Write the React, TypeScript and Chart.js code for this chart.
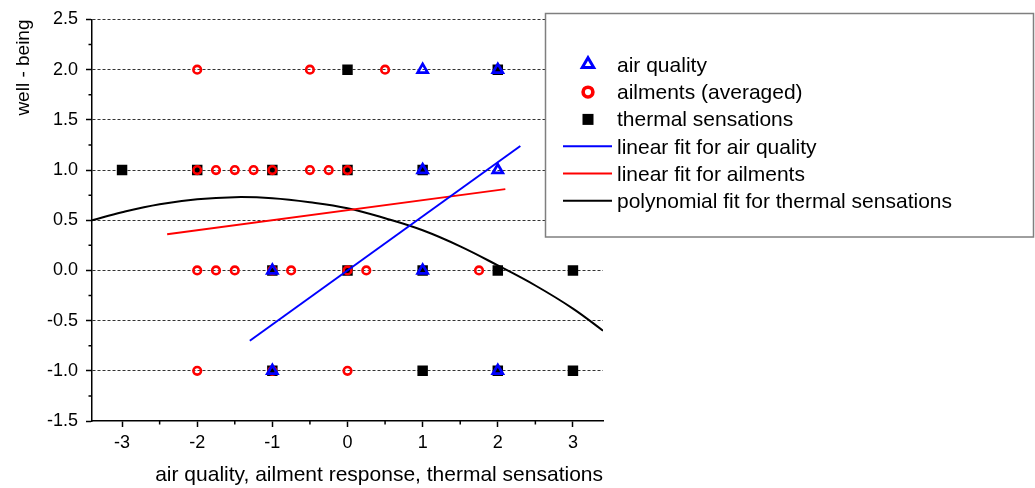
import React, { useEffect, useRef } from 'react';
import { Chart, registerables } from 'chart.js';

Chart.register(...registerables);

// ---------- data ----------
const airQualityX = [1, 2, 1, 2, -1, 1, -1, 2];
const airQualityY = [2, 2, 1, 1, 0, 0, -1, -1];

const ailmentsX = [-2, -0.5, 0.5, -2, -1.75, -1.5, -1.25, -1, -0.5, -0.25, 0, -2, -1.75, -1.5, -1, -0.75, 0, 0.25, 1.75, -2, -1, 0];
const ailmentsY = [2, 2, 2, 1, 1, 1, 1, 1, 1, 1, 1, 0, 0, 0, 0, 0, 0, 0, 0, -1, -1, -1];

const thermalX = [0, 2, -3, -2, -1, 0, 1, -1, 0, 1, 2, 3, -1, 1, 2, 3];
const thermalY = [2, 2, 1, 1, 1, 1, 1, 0, 0, 0, 0, 0, -1, -1, -1, -1];

const airFitX = [-1.3, 2.3];
const airFitY = [-0.7, 1.24];

const ailFitX = [-2.4, 2.1];
const ailFitY = [0.36, 0.81];

const polyFitX = [-3.4, -3, -2.5, -2, -1.5, -1, -0.5, 0, 0.5, 1, 1.5, 2, 2.5, 3, 3.4];
const polyFitY = [0.5, 0.58, 0.66, 0.71, 0.73, 0.72, 0.68, 0.62, 0.52, 0.4, 0.24, 0.05, -0.15, -0.38, -0.6];

const xTickValues = [-3, -2, -1, 0, 1, 2, 3];
const xMinorTicks = [-2.5, -1.5, -0.5, 0.5, 1.5, 2.5];
const yTickValues = [-1.5, -1.0, -0.5, 0, 0.5, 1.0, 1.5, 2.0, 2.5];
const yMinorTicks = [-1.25, -0.75, -0.25, 0.25, 0.75, 1.25, 1.75, 2.25];

const labels = [
  'air quality',
  'ailments (averaged)',
  'thermal sensations',
  'linear fit for air quality',
  'linear fit for ailments',
  'polynomial fit for thermal sensations',
];
const xTitle = 'air quality, ailment response, thermal sensations';
const yTitle = 'well - being';

const FONT = "'Liberation Sans', Arial, sans-serif";

const pts = (xs: number[], ys: number[]) => xs.map((x, i) => ({ x, y: ys[i] }));

const minorTickPlugin = {
  id: 'minorTicks',
  afterDraw(chart: any) {
    const { ctx, scales, chartArea } = chart;
    ctx.save();
    ctx.strokeStyle = '#000';
    ctx.lineWidth = 1.5;
    ctx.beginPath();
    xMinorTicks.forEach((v) => {
      const px = scales.x.getPixelForValue(v);
      ctx.moveTo(px, chartArea.bottom);
      ctx.lineTo(px, chartArea.bottom + 3.5);
    });
    yMinorTicks.forEach((v) => {
      const py = scales.y.getPixelForValue(v);
      ctx.moveTo(chartArea.left, py);
      ctx.lineTo(chartArea.left - 3.5, py);
    });
    ctx.stroke();
    ctx.restore();
  },
};

const legendPlugin = {
  id: 'boxLegend',
  afterDraw(chart: any) {
    const ctx = chart.ctx;
    const ds = chart.data.datasets;
    ctx.save();
    ctx.fillStyle = '#fff';
    ctx.fillRect(545, 13, 489, 224);
    ctx.strokeStyle = '#7f7f7f';
    ctx.lineWidth = 1.5;
    ctx.strokeRect(545.5, 13.5, 488, 223.5);
    const mx = 588;
    ds.forEach((d: any, i: number) => {
      const base = 71.8 + 27.3 * i;
      const my = base - 7.5;
      ctx.save();
      if (d.showLine) {
        ctx.strokeStyle = d.borderColor;
        ctx.lineWidth = 2;
        ctx.beginPath();
        ctx.moveTo(563, my);
        ctx.lineTo(612, my);
        ctx.stroke();
      } else if (d.pointStyle === 'triangle') {
        const r = 6.6;
        ctx.strokeStyle = d.borderColor;
        ctx.lineWidth = 3;
        ctx.beginPath();
        ctx.moveTo(mx, my - r);
        ctx.lineTo(mx + r * 0.866, my + r * 0.5);
        ctx.lineTo(mx - r * 0.866, my + r * 0.5);
        ctx.closePath();
        ctx.stroke();
      } else if (d.pointStyle === 'circle') {
        ctx.strokeStyle = d.borderColor;
        ctx.lineWidth = 3.6;
        ctx.beginPath();
        ctx.arc(mx, my + 0.5, 4.9, 0, Math.PI * 2);
        ctx.stroke();
      } else {
        ctx.fillStyle = d.backgroundColor;
        ctx.fillRect(mx - 5.5, my - 5, 11, 11);
      }
      ctx.restore();
      ctx.fillStyle = '#000';
      ctx.font = `21px ${FONT}`;
      ctx.textBaseline = 'alphabetic';
      ctx.textAlign = 'left';
      ctx.fillText(d.label, 617, base);
    });
    ctx.restore();
  },
};

export default function App() {
  const ref = useRef<HTMLCanvasElement>(null);

  useEffect(() => {
    Chart.defaults.font.family = FONT;
    const chart = new Chart(ref.current as HTMLCanvasElement, {
      type: 'scatter',
      data: {
        datasets: [
          {
            label: labels[0],
            data: pts(airQualityX, airQualityY),
            pointStyle: 'triangle',
            pointRadius: 5.8,
            borderWidth: 2.7,
            borderColor: '#0000ff',
            backgroundColor: 'rgba(0,0,0,0)',
            order: 1,
          },
          {
            label: labels[1],
            data: pts(ailmentsX, ailmentsY),
            pointStyle: 'circle',
            pointRadius: 3.8,
            borderWidth: 2.6,
            borderColor: '#ff0000',
            backgroundColor: 'rgba(0,0,0,0)',
            order: 2,
          },
          {
            label: labels[2],
            data: pts(thermalX, thermalY),
            pointStyle: 'rect',
            pointRadius: 7.4,
            borderWidth: 0,
            borderColor: '#000',
            backgroundColor: '#000',
            order: 3,
          },
          {
            label: labels[3],
            data: pts(airFitX, airFitY),
            showLine: true,
            pointRadius: 0,
            borderWidth: 2,
            borderColor: '#0000ff',
            backgroundColor: '#0000ff',
            order: 0,
          },
          {
            label: labels[4],
            data: pts(ailFitX, ailFitY),
            showLine: true,
            pointRadius: 0,
            borderWidth: 2,
            borderColor: '#ff0000',
            backgroundColor: '#ff0000',
            order: 0,
          },
          {
            label: labels[5],
            data: pts(polyFitX, polyFitY),
            showLine: true,
            pointRadius: 0,
            borderWidth: 2,
            tension: 0.4,
            borderColor: '#000',
            backgroundColor: '#000',
            order: 0,
          },
        ] as any,
      },
      options: {
        animation: false,
        responsive: false,
        events: [],
        layout: { padding: { left: 0, right: 432, top: 19.5, bottom: 0 } },
        plugins: {
          legend: { display: false },
          tooltip: { enabled: false },
        },
        scales: {
          x: {
            type: 'linear',
            position: 'bottom',
            min: -3.4,
            max: 3.4,
            afterBuildTicks: (s: any) => {
              s.ticks = xTickValues.map((v) => ({ value: v }));
            },
            afterFit: (s: any) => {
              s.height = 67;
            },
            ticks: {
              color: '#000',
              font: { size: 18 },
              padding: 5,
              maxRotation: 0,
              autoSkip: false,
              callback: (v: any) => String(v),
            },
            grid: {
              drawOnChartArea: false,
              drawTicks: true,
              tickLength: 6,
              tickColor: '#000',
              tickWidth: 1.5,
            },
            border: { display: true, color: '#000', width: 1.5 },
            title: {
              display: true,
              text: xTitle,
              align: 'end',
              color: '#000',
              font: { size: 21 },
              padding: { top: 0, bottom: 0 },
            },
          },
          y: {
            type: 'linear',
            position: 'left',
            min: -1.5,
            max: 2.5,
            afterBuildTicks: (s: any) => {
              s.ticks = yTickValues.map((v) => ({ value: v }));
            },
            afterFit: (s: any) => {
              s.width = 92;
            },
            ticks: {
              color: '#000',
              font: { size: 18 },
              padding: 8,
              autoSkip: false,
              callback: (v: any) => Number(v).toFixed(1),
            },
            grid: {
              drawOnChartArea: true,
              drawTicks: true,
              tickLength: 6,
              tickColor: '#000',
              tickWidth: 1.5,
              lineWidth: 1,
              color: (c: any) => (c.tick && c.tick.value === -1.5 ? 'rgba(0,0,0,0)' : '#333'),
            },
            border: { display: true, color: '#000', width: 1.5, dash: [3, 2] },
            title: {
              display: true,
              text: yTitle,
              align: 'end',
              color: '#000',
              font: { size: 19 },
              padding: { top: 12, bottom: 0 },
            },
          },
        },
      } as any,
      plugins: [minorTickPlugin, legendPlugin],
    });
    return () => chart.destroy();
  }, []);

  return (
    <div style={{ position: 'fixed', left: 0, top: 0, width: 1035, height: 488, background: '#fff' }}>
      <canvas ref={ref} width={1035} height={488} />
    </div>
  );
}
